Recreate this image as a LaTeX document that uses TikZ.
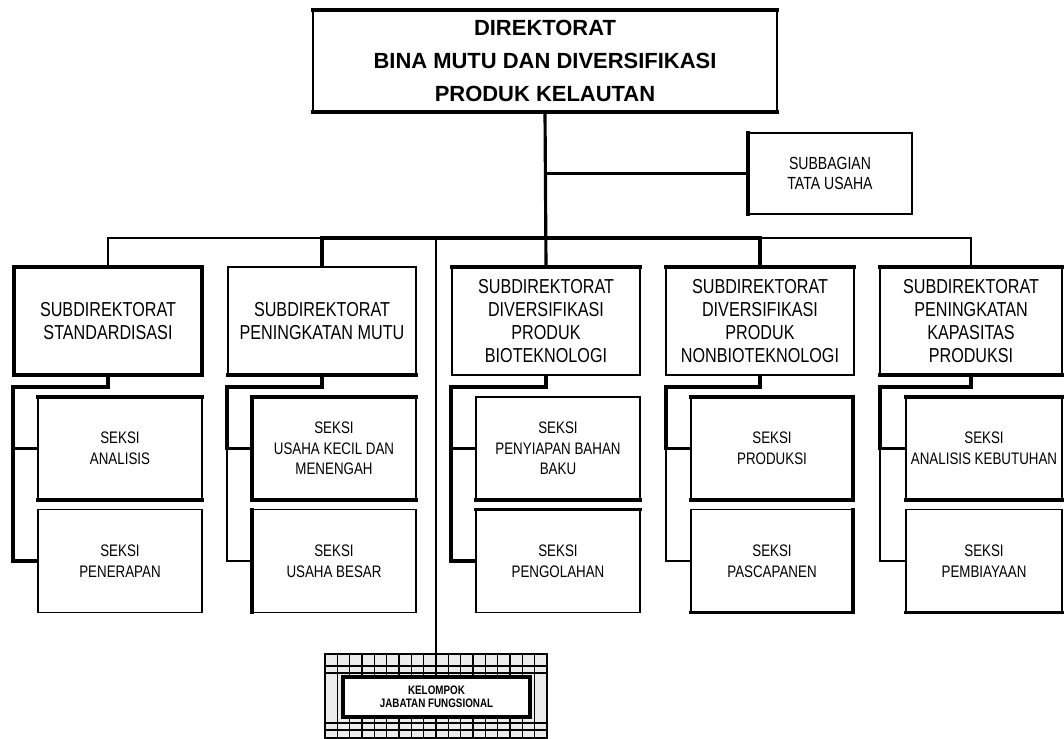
\documentclass[tikz,border=0pt]{standalone}
\usepackage{fontspec}
\setmainfont{Liberation Sans}
\newfontfamily\narrowsf{Liberation Sans}[FakeStretch=0.8]

\begin{document}
\begin{tikzpicture}[x=0.02cm,y=-0.02cm]
        \tikzset{box/.style={draw,line width=0.8pt,inner sep=1pt,outer sep=0pt,align=center,fill=white},
            heavy/.style={line width=1.8pt},
            light/.style={line width=0.8pt},
            topheavy/.style={append after command={(\tikzlastnode.north west) edge[heavy,line cap=rect] (\tikzlastnode.north east)}},
            botheavy/.style={append after command={(\tikzlastnode.south west) edge[heavy,line cap=rect] (\tikzlastnode.south east)}},
            leftheavy/.style={append after command={(\tikzlastnode.south west) edge[heavy,line cap=rect] (\tikzlastnode.north west)}},
            rightheavy/.style={append after command={(\tikzlastnode.south east) edge[heavy,line cap=rect] (\tikzlastnode.north east)}},
            subdir/.style={box,minimum width=3.76cm,minimum height=2.16cm,font=\narrowsf\fontsize{11.5}{13.2}\selectfont},
            seksi/.style={box,minimum width=3.28cm,minimum height=2.06cm,font=\narrowsf\fontsize{9.5}{11.7}\selectfont}}
        \useasboundingbox (0,0) rectangle (1064,738);
        % direktorat and subbagian
        \node[box,topheavy,botheavy,minimum width=9.28cm,minimum height=2.04cm,
            font=\bfseries\fontsize{12.5}{18.7}\selectfont] (dir) at (545,61)
            {DIREKTORAT\\BINA MUTU DAN DIVERSIFIKASI\\PRODUK KELAUTAN};
        \node[box,leftheavy,minimum width=3.28cm,minimum height=1.62cm,
            font=\narrowsf\fontsize{10}{11.5}\selectfont] (tu) at (830,173.5) {SUBBAGIAN\\TATA USAHA};
        % subdirektorat
        \node[subdir,topheavy,botheavy,leftheavy,rightheavy] (sd1) at (108,321) {SUBDIREKTORAT\\STANDARDISASI};
        \node[subdir,botheavy] (sd2) at (322,321) {SUBDIREKTORAT\\PENINGKATAN MUTU};
        \node[subdir,topheavy] (sd3) at (546,321) {SUBDIREKTORAT\\DIVERSIFIKASI\\PRODUK\\BIOTEKNOLOGI};
        \node[subdir,topheavy] (sd4) at (760,321) {SUBDIREKTORAT\\DIVERSIFIKASI\\PRODUK\\NONBIOTEKNOLOGI};
        \node[subdir,topheavy,botheavy,minimum width=3.64cm] (sd5) at (971,321) {SUBDIREKTORAT\\PENINGKATAN\\KAPASITAS\\PRODUKSI};
        % seksi
        \node[seksi,topheavy,botheavy] (sa1) at (120,448.5) {SEKSI\\ANALISIS};
        \node[seksi] (sb1) at (120,561) {SEKSI\\PENERAPAN};
        \node[seksi,topheavy,botheavy,leftheavy] (sa2) at (334,448.5) {SEKSI\\USAHA KECIL DAN\\MENENGAH};
        \node[seksi,leftheavy] (sb2) at (334,561) {SEKSI\\USAHA BESAR};
        \node[seksi,botheavy] (sa3) at (558,448.5) {SEKSI\\PENYIAPAN BAHAN\\BAKU};
        \node[seksi,topheavy] (sb3) at (558,561) {SEKSI\\PENGOLAHAN};
        \node[seksi,topheavy,botheavy,rightheavy,minimum width=3.24cm] (sa4) at (772,448.5) {SEKSI\\PRODUKSI};
        \node[seksi,botheavy,rightheavy,minimum width=3.24cm] (sb4) at (772,561) {SEKSI\\PASCAPANEN};
        \node[seksi,topheavy,botheavy,minimum width=3.12cm] (sa5) at (984,448.5) {SEKSI\\ANALISIS KEBUTUHAN};
        \node[seksi,botheavy,minimum width=3.12cm] (sb5) at (984,561) {SEKSI\\PEMBIAYAAN};
        % kelompok jabatan fungsional
        \node[box,line width=1.5pt,fill=gray!15,minimum width=4.44cm,minimum height=1.68cm] (kf) at (436,696) {};
        \foreach \i in {1,...,17}
            \draw[light] (325+\i*12.33,654) -- (325+\i*12.33,738);
        \foreach \y in {666,673,723,730}
            \draw[light] (325,\y) -- (547,\y);
        \node[box,line width=1.8pt,minimum width=3.74cm,minimum height=0.8cm,
            font=\narrowsf\bfseries\fontsize{7}{7.5}\selectfont] (kfi) at (436.5,697) {KELOMPOK\\JABATAN FUNGSIONAL};
        % lines
        \coordinate (bar) at (546,238);
        \draw[heavy] (dir.south) -- (sd3.north);
        \draw[heavy] (dir.south |- tu.west) -- (tu.west);
        \draw[light] (sd1.north) |- (bar) -| (sd5.north);
        \draw[heavy] (sd2.north) |- (bar) -| (sd4.north);
        \draw[light] (kf.north) -- (kf.north |- bar);
        \foreach \i/\sx/\st in {1/13/heavy,2/227/light,3/451/heavy,4/666/light,5/880/light} {
            \coordinate (k\i) at (\sx,387);
            \draw[heavy] (sd\i.south) |- (k\i) |- (sa\i.west);
            \draw[\st] (k\i) |- (sb\i.west);
        }
    \end{tikzpicture}
\end{document}
